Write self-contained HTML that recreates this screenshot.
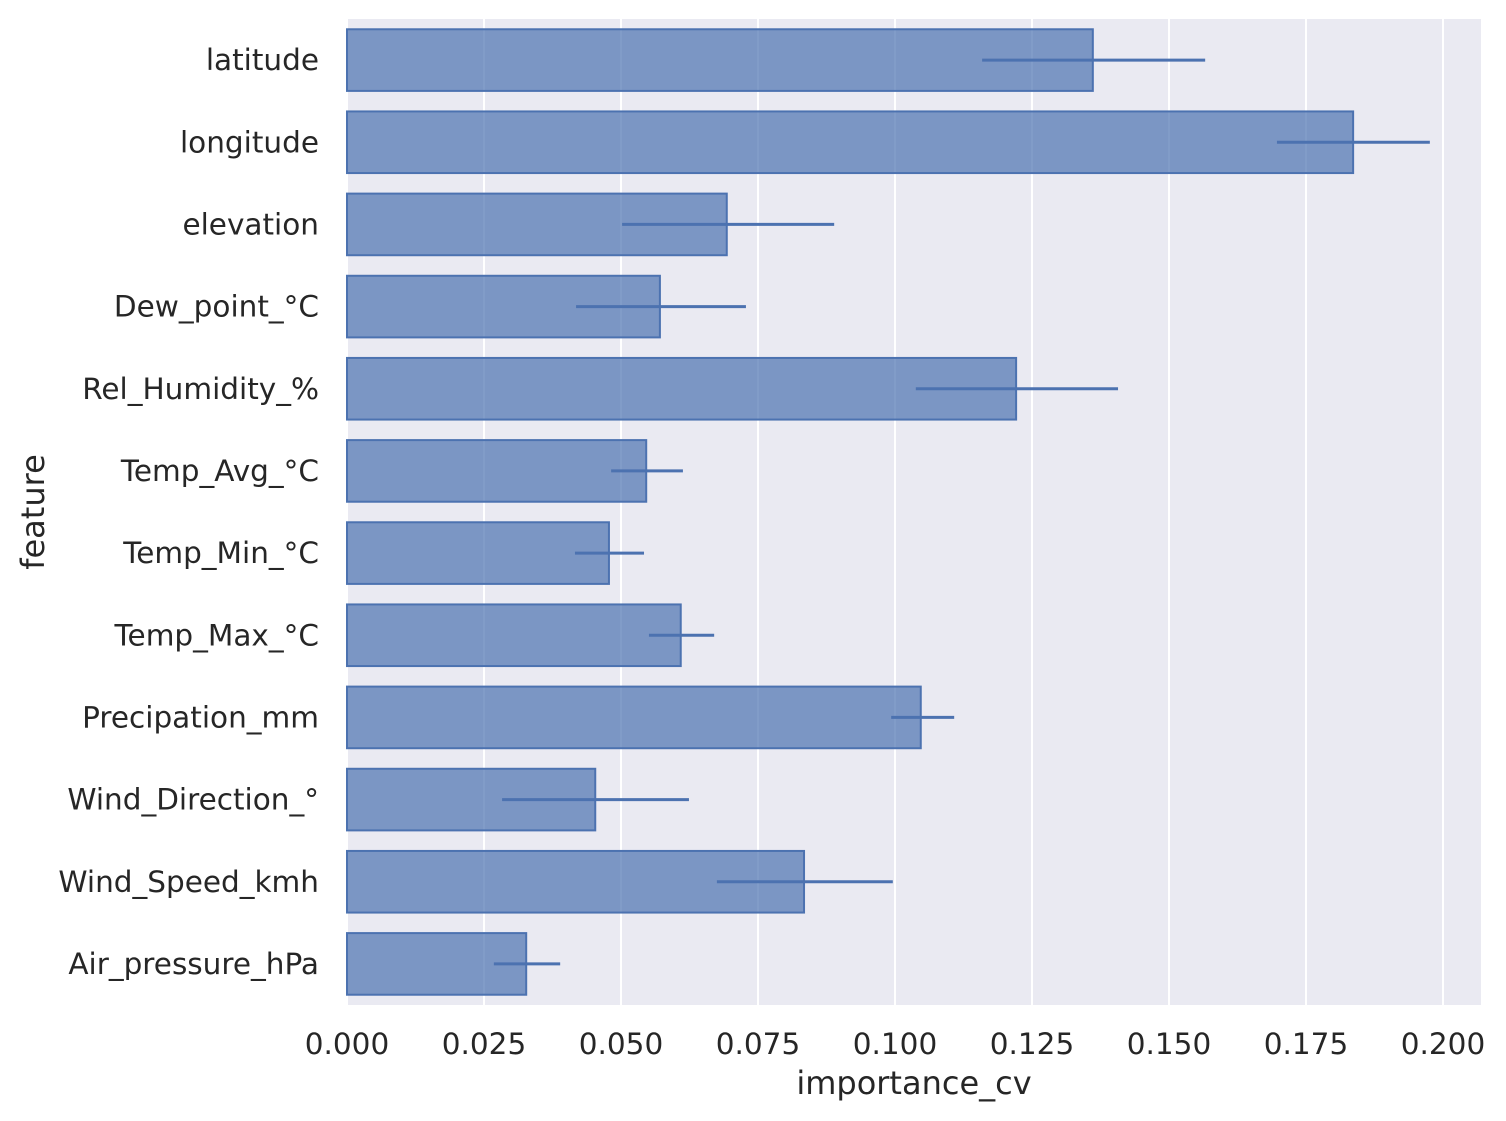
<!DOCTYPE html>
<html><head><meta charset="utf-8"><style>
body{margin:0;background:#fff;}
svg{display:block;font-family:"DejaVu Sans","Liberation Sans",sans-serif;}
</style></head><body>
<svg id="chart" width="1506" height="1121">
<rect x="347" y="19" width="1134" height="986" fill="#eaeaf2"/>
<g id="grid"></g><g id="bars"></g><g id="xticks"></g><g id="yticks"></g>
<text x="914" y="1094" font-size="32" fill="#262626" text-anchor="middle">importance_cv</text>
<text x="44" y="512" font-size="32" fill="#262626" text-anchor="middle" transform="rotate(-90 44 512)">feature</text>
</svg>
<script>
const features=["latitude","longitude","elevation","Dew_point_°C","Rel_Humidity_%","Temp_Avg_°C","Temp_Min_°C","Temp_Max_°C","Precipation_mm","Wind_Direction_°","Wind_Speed_kmh","Air_pressure_hPa"];
const values=[0.1361,0.1836,0.0693,0.0571,0.1221,0.0546,0.0478,0.0609,0.1047,0.0453,0.0834,0.0327];
const errLow=[0.1159,0.1697,0.0502,0.0418,0.1038,0.0482,0.0416,0.0551,0.0993,0.0283,0.0675,0.0268];
const errHigh=[0.1566,0.1976,0.0889,0.0728,0.1407,0.0613,0.0542,0.0670,0.1108,0.0624,0.0996,0.0389];
const xTicks=[0,0.025,0.05,0.075,0.1,0.125,0.15,0.175,0.2];
const xTickLabels=["0.000","0.025","0.050","0.075","0.100","0.125","0.150","0.175","0.200"];
const NS="http://www.w3.org/2000/svg";
const X0=347,Y0=19,H=986,band=H/features.length;
function x(v){return X0+v*5480;}
function yc(i){return Y0+band*(i+0.5);}
function mk(tag,attrs,parent,text){const e=document.createElementNS(NS,tag);for(const k in attrs)e.setAttribute(k,attrs[k]);if(text!==undefined)e.textContent=text;document.getElementById(parent).appendChild(e);return e;}
xTicks.forEach((t,i)=>{
 const g=mk("line",{x1:x(t),x2:x(t),y1:Y0,y2:Y0+H,stroke:"#fff","stroke-width":2},"grid");
 
 
 const l=mk("text",{x:x(t),y:1054,"font-size":29.5,fill:"#262626","text-anchor":"middle"},"xticks",xTickLabels[i]);
 
 
});
const bh=band*0.75;
features.forEach((f,i)=>{
 const b=mk("rect",{x:X0,y:yc(i)-bh/2,width:x(values[i])-X0,height:bh,fill:"rgba(76,114,176,0.7)",stroke:"#4c72b0","stroke-width":2},"bars");
 
 
 const e=mk("line",{x1:x(errLow[i]),x2:x(errHigh[i]),y1:yc(i),y2:yc(i),stroke:"#4c72b0","stroke-width":3},"bars");
 
 
 const l=mk("text",{x:319,y:yc(i)+10,"font-size":29.5,fill:"#262626","text-anchor":"end"},"yticks",f);
 
 
});
</script>
</body></html>
